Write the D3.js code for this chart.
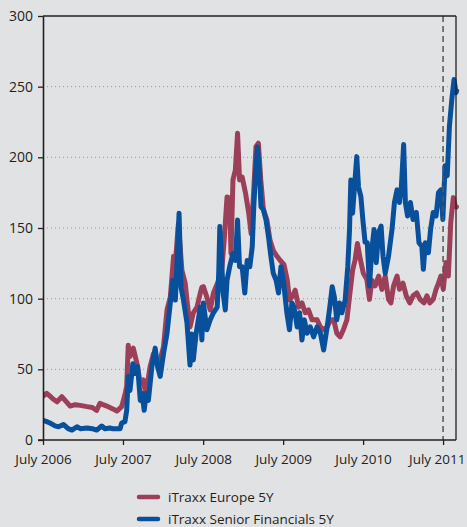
<!DOCTYPE html>
<html>
<head>
<meta charset="utf-8">
<script src="https://cdn.jsdelivr.net/npm/d3@7"></script>
<style>
  html, body { margin: 0; padding: 0; background: #e1e2e4; }
  svg { display: block; }
  text { font-family: "Open Sans", "Noto Sans", sans-serif; fill: #231f20; }
</style>
</head>
<body>
<svg id="chart" width="467" height="527"></svg>
<script>
// ---- data ----
const seriesNames = ["iTraxx Europe 5Y", "iTraxx Senior Financials 5Y"];
const yTickValues = [0, 50, 100, 150, 200, 250, 300];
const xTickDates = ["2006-07-01", "2007-07-01", "2008-07-01", "2009-07-01", "2010-07-01", "2011-07-01"];
const markerDate = "2011-07-01";

const europe5Y = [
  ["2006-07-01",31],["2006-07-18",33],["2006-08-02",31],["2006-08-16",29],["2006-09-03",27],
  ["2006-09-25",30.6],["2006-10-10",28],["2006-11-02",24],["2006-11-25",25],["2006-12-18",24.5],
  ["2007-01-18",23.6],["2007-02-11",23],["2007-03-03",21],["2007-03-18",26],["2007-04-01",25],
  ["2007-04-18",24],["2007-05-02",23],["2007-05-16",22],["2007-06-03",20.5],["2007-06-25",23.6],
  ["2007-07-10",32],["2007-07-18",38],["2007-07-25",67],["2007-08-02",59],["2007-08-17",65],
  ["2007-09-03",54],["2007-09-18",40],["2007-10-02",42.5],["2007-10-10",35],["2007-10-18",37],
  ["2007-11-02",52],["2007-11-17",61],["2007-12-03",54],["2007-12-18",56.6],["2008-01-02",66],
  ["2008-01-18",92],["2008-02-02",101],["2008-02-17",130],["2008-02-25",125],["2008-03-10",153],
  ["2008-03-26",120],["2008-04-10",111],["2008-04-18",99],["2008-05-02",80],["2008-05-17",90],
  ["2008-06-03",94],["2008-06-18",104],["2008-06-25",108],["2008-07-02",108.5],["2008-07-18",101],
  ["2008-08-02",92],["2008-08-17",104],["2008-09-10",113],["2008-09-25",122.6],["2008-10-05",141.5],
  ["2008-10-18",172],["2008-10-30",171],["2008-11-05",132],["2008-11-14",184],["2008-11-25",191],
  ["2008-12-05",217],["2008-12-14",184],["2008-12-26",186],["2009-01-10",175],["2009-01-25",160.5],
  ["2009-02-05",146],["2009-02-17",177],["2009-02-27",207.5],["2009-03-10",210],["2009-03-21",184],
  ["2009-04-02",163],["2009-04-18",155.6],["2009-05-02",141.5],["2009-05-17",134],["2009-06-03",130],
  ["2009-06-18",127],["2009-07-05",124],["2009-07-20",113],["2009-07-30",99],["2009-08-10",101],
  ["2009-08-25",106],["2009-09-10",94],["2009-09-25",97],["2009-10-10",90],["2009-10-25",92],
  ["2009-11-10",85],["2009-12-03",85],["2009-12-18",80],["2010-01-02",78],["2010-01-18",80],
  ["2010-02-02",85],["2010-02-17",85],["2010-03-03",75.5],["2010-03-18",73],["2010-04-02",78],
  ["2010-04-18",85],["2010-05-02",104],["2010-05-14",120],["2010-05-25",127],["2010-06-05",139],
  ["2010-06-18",128],["2010-07-02",118],["2010-07-18",113.7],["2010-07-30",99.5],["2010-08-10",113],
  ["2010-08-25",109],["2010-09-10",116],["2010-09-25",106.6],["2010-10-10",116],["2010-10-25",99.5],
  ["2010-11-05",97],["2010-11-17",109],["2010-12-03",116],["2010-12-14",106.6],["2010-12-30",111],
  ["2011-01-14",102],["2011-01-30",97],["2011-02-14",102],["2011-03-03",104],["2011-03-18",99.5],
  ["2011-04-05",97],["2011-04-18",102],["2011-05-02",97],["2011-05-17",99.5],["2011-05-30",106.6],
  ["2011-06-10",111],["2011-06-21",116],["2011-07-02",106.6],["2011-07-14",125.5],["2011-07-25",116],
  ["2011-08-05",153.8],["2011-08-17",171.5],["2011-08-25",165.6],["2011-08-31",165]
];

const seniorFinancials5Y = [
  ["2006-07-01",14],["2006-07-18",13],["2006-08-02",12],["2006-08-25",10],["2006-09-10",9.4],
  ["2006-10-02",11],["2006-10-24",8],["2006-11-10",7],["2006-12-03",9.4],["2006-12-18",8],
  ["2007-01-18",8.5],["2007-02-11",8],["2007-03-03",7],["2007-03-26",9.9],["2007-04-10",8],
  ["2007-05-02",8.5],["2007-05-16",8],["2007-06-18",8],["2007-06-25",12],["2007-07-10",13],
  ["2007-07-18",21],["2007-07-25",45],["2007-08-02",35],["2007-08-15",54],["2007-08-25",47],
  ["2007-09-06",52],["2007-09-18",28],["2007-09-26",33],["2007-10-06",21],["2007-10-15",33],
  ["2007-10-25",28],["2007-11-10",52],["2007-11-25",65],["2007-12-06",52],["2007-12-18",45],
  ["2008-01-02",61],["2008-01-18",75.5],["2008-02-02",97],["2008-02-14",113],["2008-02-25",99],
  ["2008-03-06",134],["2008-03-13",160.5],["2008-03-22",108],["2008-04-02",99],["2008-04-18",83],
  ["2008-05-02",53],["2008-05-10",75],["2008-05-17",56.6],["2008-05-30",75.5],["2008-06-18",94],
  ["2008-06-25",70.8],["2008-07-02",97],["2008-07-18",78],["2008-08-02",85],["2008-08-17",90],
  ["2008-09-03",94],["2008-09-10",118],["2008-09-15",151],["2008-09-22",132],["2008-09-30",104],
  ["2008-10-10",92],["2008-10-18",113],["2008-10-30",122.6],["2008-11-14",132],["2008-11-25",127],
  ["2008-12-05",155.6],["2008-12-14",122.6],["2008-12-26",122.6],["2009-01-07",104],["2009-01-18",127],
  ["2009-01-30",122.6],["2009-02-10",136.8],["2009-02-17",165],["2009-02-25",188.7],["2009-03-06",207.5],
  ["2009-03-15",188.7],["2009-03-22",165],["2009-04-02",163],["2009-04-14",155.6],["2009-04-25",144],
  ["2009-05-06",130],["2009-05-17",118],["2009-05-30",113],["2009-06-10",104],["2009-06-21",122.6],
  ["2009-07-02",113],["2009-07-18",90],["2009-07-30",78],["2009-08-10",97],["2009-08-20",94],
  ["2009-09-03",80],["2009-09-14",90],["2009-09-25",70.8],["2009-10-06",85],["2009-10-18",75.5],
  ["2009-11-02",80],["2009-11-17",73],["2009-12-03",80],["2009-12-18",75.5],["2010-01-02",63.7],
  ["2010-01-18",80],["2010-01-30",94],["2010-02-10",108.5],["2010-02-20",101],["2010-03-03",85],
  ["2010-03-15",97],["2010-03-26",90],["2010-04-10",99],["2010-04-22",122.6],["2010-04-30",148.6],
  ["2010-05-06",184],["2010-05-14",160.5],["2010-05-25",184],["2010-06-02",200.5],["2010-06-10",179],
  ["2010-06-21",172],["2010-06-30",155.6],["2010-07-10",140],["2010-07-20",139.6],["2010-07-30",109],
  ["2010-08-10",135],["2010-08-20",149],["2010-08-30",125.5],["2010-09-10",146.7],["2010-09-21",151.4],
  ["2010-09-30",130],["2010-10-10",118],["2010-10-25",130],["2010-11-10",149],["2010-11-21",168],
  ["2010-12-03",177],["2010-12-14",168],["2010-12-23",180],["2011-01-02",209],["2011-01-10",168],
  ["2011-01-20",158.5],["2011-02-02",168],["2011-02-14",156],["2011-03-01",161],["2011-03-13",139.6],
  ["2011-03-26",137],["2011-04-02",120.8],["2011-04-11",139.6],["2011-04-25",132.5],["2011-05-05",149],
  ["2011-05-17",161],["2011-05-30",158.5],["2011-06-10",175],["2011-06-21",177],["2011-06-30",156],
  ["2011-07-10",194],["2011-07-20",187],["2011-07-30",222],["2011-08-10",241],["2011-08-20",255],
  ["2011-08-29",245.7],["2011-09-01",247]
];

const seriesColors = ["#9c3f58", "#08509c"];

// ---- chart ----
const parse = d3.timeParse("%Y-%m-%d");
const svg = d3.select("#chart");
const W = 467, H = 527;
const m = { left: 43, right: 11, top: 16, bottom: 87 };
const x0 = m.left, x1 = W - m.right, y0 = m.top, y1 = H - m.bottom;

const x = d3.scaleTime()
  .domain([parse("2006-07-01"), parse("2011-08-29")])
  .range([x0, x1]);
const y = d3.scaleLinear().domain([0, 300]).range([y1, y0]);

// gridlines
svg.append("g").selectAll("line")
  .data(yTickValues.filter(v => v > 0 && v < 300))
  .join("line")
  .attr("x1", x0).attr("x2", x1)
  .attr("y1", d => y(d)).attr("y2", d => y(d))
  .attr("stroke", "#9a9a9a").attr("stroke-width", 1)
  .attr("stroke-dasharray", "1,3");

// series lines
const line = d3.line().x(d => x(parse(d[0]))).y(d => y(d[1])).curve(d3.curveLinear);
svg.append("clipPath").attr("id", "clip").append("rect")
  .attr("x", x0 + 1).attr("y", 0).attr("width", x1 - x0 + 3).attr("height", y1 - 1);
[europe5Y, seniorFinancials5Y].forEach((s, i) => {
  svg.append("path")
    .datum(s)
    .attr("d", line)
    .attr("fill", "none")
    .attr("stroke", seriesColors[i])
    .attr("stroke-width", 5)
    .attr("stroke-linejoin", "round")
    .attr("stroke-linecap", "round")
    .attr("clip-path", "url(#clip)");
});

// dashed marker
svg.append("line")
  .attr("x1", x(parse(markerDate))).attr("x2", x(parse(markerDate)))
  .attr("y1", y0).attr("y2", y1)
  .attr("stroke", "#555").attr("stroke-width", 1.5)
  .attr("stroke-dasharray", "6,4");

// frame top & right
svg.append("line").attr("x1", x0).attr("x2", x1).attr("y1", y0).attr("y2", y0)
  .attr("stroke", "#231f20").attr("stroke-width", 1.3);
svg.append("line").attr("x1", x1).attr("x2", x1).attr("y1", y0).attr("y2", y1)
  .attr("stroke", "#231f20").attr("stroke-width", 1.3);

// y axis
const yAxis = svg.append("g").attr("transform", `translate(${x0},0)`)
  .call(d3.axisLeft(y).tickValues(yTickValues).tickSize(5).tickPadding(5).tickSizeOuter(0));
yAxis.select(".domain").attr("stroke", "#231f20").attr("stroke-width", 1.6);
yAxis.selectAll(".tick line").attr("stroke", "#231f20").attr("stroke-width", 1.3);
yAxis.selectAll("text").style("font-size", "14px").attr("fill", "#231f20");

// x axis
const fmt = d3.timeFormat("July %Y");
const xAxis = svg.append("g").attr("transform", `translate(0,${y1})`)
  .call(d3.axisBottom(x).tickValues(xTickDates.map(parse)).tickFormat(fmt)
    .tickSize(5).tickPadding(9).tickSizeOuter(0));
xAxis.select(".domain").attr("stroke", "#231f20").attr("stroke-width", 1.6)
  .attr("d", `M${x0 - 5},0H${x1}`);
xAxis.selectAll(".tick line").attr("stroke", "#231f20").attr("stroke-width", 1.3);
xAxis.selectAll("text").style("font-size", "13.5px").attr("fill", "#231f20");
xAxis.selectAll(".tick text").filter((d, i, n) => i === n.length - 1)
  .attr("text-anchor", "end").attr("x", W - 2 - x(parse(xTickDates[xTickDates.length - 1])));

// legend
const legend = svg.append("g");
seriesNames.forEach((name, i) => {
  const ly = 497 + i * 22;
  legend.append("line").attr("x1", 139).attr("x2", 158).attr("y1", ly).attr("y2", ly)
    .attr("stroke", seriesColors[i]).attr("stroke-width", 4.5).attr("stroke-linecap", "round");
  legend.append("text").attr("x", 168).attr("y", ly + 5).style("font-size", "13.5px").text(name);
});
</script>
</body>
</html>
